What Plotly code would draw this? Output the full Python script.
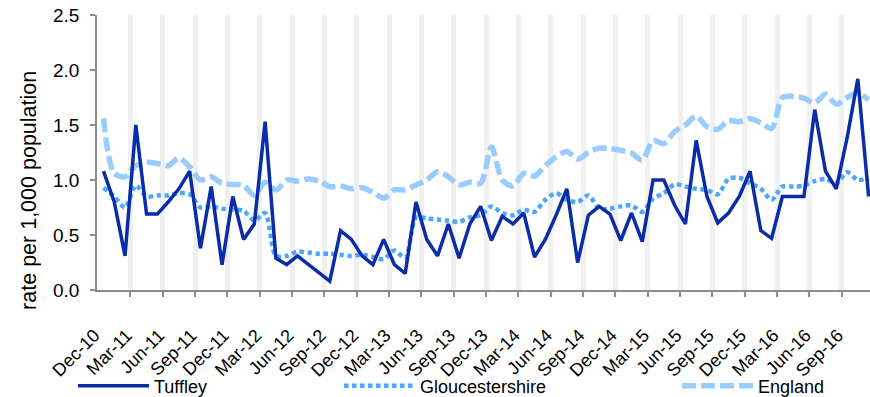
import plotly.graph_objects as go
import pandas as pd

# monthly categories Dec-10 .. Nov-16
months = list(pd.date_range("2010-12-01", periods=72, freq="MS").strftime("%b-%y"))

tuffley = [1.08, 0.80, 0.31, 1.50, 0.69, 0.69, 0.80, 0.92, 1.08, 0.38,
           0.94, 0.23, 0.85, 0.46, 0.60, 1.53, 0.29, 0.23, 0.31, 0.23,
           0.15, 0.08, 0.54, 0.46, 0.31, 0.23, 0.46, 0.23, 0.15, 0.80,
           0.46, 0.31, 0.60, 0.29, 0.60, 0.76, 0.45, 0.67, 0.60, 0.70,
           0.30, 0.46, 0.68, 0.92, 0.25, 0.68, 0.76, 0.69, 0.45, 0.70,
           0.44, 1.00, 1.00, 0.77, 0.60, 1.36, 0.85, 0.61, 0.70, 0.85,
           1.08, 0.54, 0.47, 0.85, 0.85, 0.85, 1.64, 1.08, 0.92, 1.38,
           1.92, 0.85]

gloucestershire = [0.93, 0.85, 0.75, 0.95, 0.85, 0.86, 0.86, 0.88, 0.87, 0.75,
                   0.76, 0.74, 0.73, 0.72, 0.63, 0.70, 0.31, 0.31, 0.35, 0.34,
                   0.33, 0.33, 0.32, 0.31, 0.32, 0.30, 0.28, 0.36, 0.29, 0.66,
                   0.65, 0.64, 0.63, 0.62, 0.66, 0.68, 0.76, 0.70, 0.68, 0.73,
                   0.71, 0.82, 0.88, 0.82, 0.80, 0.86, 0.74, 0.74, 0.76, 0.77,
                   0.71, 0.83, 0.88, 0.96, 0.94, 0.92, 0.91, 0.87, 1.01, 1.02,
                   0.97, 0.92, 0.82, 0.94, 0.94, 0.95, 0.99, 1.01, 0.97, 1.07,
                   1.00, 1.02]

england = [1.56, 1.06, 1.03, 1.13, 1.16, 1.15, 1.13, 1.20, 1.12, 1.00,
           1.03, 0.97, 0.96, 0.95, 0.86, 0.98, 0.91, 1.00, 0.99, 1.01,
           0.99, 0.94, 0.945, 0.92, 0.93, 0.89, 0.835, 0.91, 0.91, 0.955,
           1.00, 1.075, 1.03, 0.955, 0.98, 0.97, 1.30, 1.00, 0.945, 1.06,
           1.035, 1.13, 1.21, 1.26, 1.19, 1.25, 1.29, 1.285, 1.27, 1.245,
           1.18, 1.36, 1.33, 1.44, 1.50, 1.58, 1.485, 1.46, 1.54, 1.53,
           1.56, 1.52, 1.47, 1.75, 1.76, 1.745, 1.70, 1.78, 1.69, 1.75,
           1.79, 1.73]

tick_labels = ["Dec-10", "Mar-11", "Jun-11", "Sep-11", "Dec-11", "Mar-12",
               "Jun-12", "Sep-12", "Dec-12", "Mar-13", "Jun-13", "Sep-13",
               "Dec-13", "Mar-14", "Jun-14", "Sep-14", "Dec-14", "Mar-15",
               "Jun-15", "Sep-15", "Dec-15", "Mar-16", "Jun-16", "Sep-16"]

y_ticks = [0.0, 0.5, 1.0, 1.5, 2.0, 2.5]
y_title = "rate per 1,000 population"

x = list(range(len(months)))
tick_positions = [months.index(t) for t in tick_labels]
boundaries = [p - 0.5 for p in tick_positions[1:]]

FONT = "Liberation Sans, Arial, sans-serif"
AXIS_GREY = "#8C8C8C"

W, H = 870, 397

fig = go.Figure()
fig.add_trace(go.Scatter(
    x=x, y=england, mode="lines", name="England", text=months,
    line=dict(color="#99CCFF", width=5.5, dash="14px,5px", shape="spline", smoothing=0.8),
    legend="legend3"))
fig.add_trace(go.Scatter(
    x=x, y=gloucestershire, mode="lines", name="Gloucestershire", text=months,
    line=dict(color="#4DA6FF", width=4.5, dash="4.5px,3.5px", shape="spline", smoothing=0.8),
    legend="legend2"))
fig.add_trace(go.Scatter(
    x=x, y=tuffley, mode="lines", name="Tuffley", text=months,
    line=dict(color="#0A2CA8", width=3.5),
    legend="legend"))

legend_common = dict(orientation="h", xref="container", yref="container",
                     y=0.0277, yanchor="middle", xanchor="left",
                     font=dict(family=FONT, size=18, color="#000000"),
                     bgcolor="rgba(0,0,0,0)", itemwidth=71)

fig.update_layout(
    width=W, height=H,
    margin=dict(l=97, r=0, t=15, b=107),
    paper_bgcolor="white", plot_bgcolor="white",
    font=dict(family=FONT, color="#000000"),
    showlegend=True,
    legend=dict(legend_common, x=0.0839),
    legend2=dict(legend_common, x=0.3897),
    legend3=dict(legend_common, x=0.7782),
    xaxis=dict(
        range=[-0.6, 71.13], automargin=False,
        tickmode="array", tickvals=tick_positions, ticktext=tick_labels,
        tickangle=-45, ticks="", showgrid=False, zeroline=False,
        showline=True, linecolor=AXIS_GREY, linewidth=1.5,
        tickfont=dict(family=FONT, size=18, color="#000000"),
        ticklabelstandoff=26, ticklabelshift=-9,
        minor=dict(tickmode="array", tickvals=boundaries, ticks="outside",
                   ticklen=5, tickwidth=1.5, tickcolor=AXIS_GREY,
                   showgrid=True, gridcolor="#F0F0F0", gridwidth=4.5),
    ),
    yaxis=dict(
        range=[0, 2.5], automargin=False,
        tickmode="array", tickvals=y_ticks, tickformat=".1f",
        ticks="outside", ticklen=5, tickwidth=1.5, tickcolor=AXIS_GREY,
        showline=True, linecolor=AXIS_GREY, linewidth=1.5,
        showgrid=False, zeroline=False,
        ticklabelstandoff=7,
        tickfont=dict(family=FONT, size=19, color="#000000"),
    ),
    annotations=[dict(
        text=y_title, textangle=-90, showarrow=False,
        xref="paper", yref="paper", x=-0.088, y=0.364,
        xanchor="center", yanchor="middle",
        font=dict(family=FONT, size=21.5, color="#000000"))],
)

# remove the browser's default page margin so the figure fills the window
fig.write_html("out.html", config={"displayModeBar": False},
               post_script="document.body.style.margin='0px';")
